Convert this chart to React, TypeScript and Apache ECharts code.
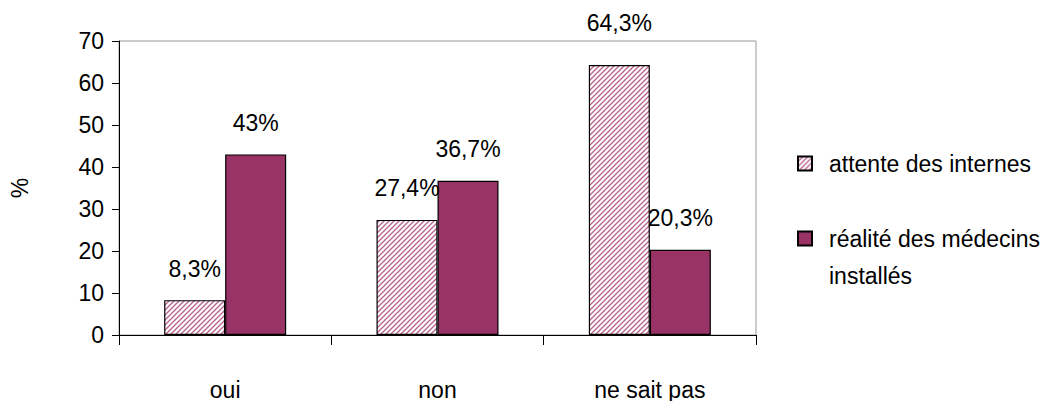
import React, { useEffect, useRef } from "react";
import * as echarts from "echarts";

const categories = ["oui", "non", "ne sait pas"];
const seriesNames = ["attente des internes", "réalité des médecins\ninstallés"];
const attenteValues = [8.3, 27.4, 64.3];
const realiteValues = [43, 36.7, 20.3];
const yTicks = { min: 0, max: 70, interval: 10 };

const FONT = '"Liberation Sans Narrow", "Arial Narrow", "Liberation Sans", Arial, sans-serif';
const FS = 23;

function makeHatch() {
  const s = 5;
  const c = document.createElement("canvas");
  c.width = s;
  c.height = s;
  const ctx = c.getContext("2d")!;
  ctx.fillStyle = "#ffffff";
  ctx.fillRect(0, 0, s, s);
  ctx.strokeStyle = "#b8608c";
  ctx.lineWidth = 1.3;
  ctx.beginPath();
  ctx.moveTo(-1, s + 1);
  ctx.lineTo(s + 1, -1);
  ctx.moveTo(-1, 1);
  ctx.lineTo(1, -1);
  ctx.moveTo(s - 1, s + 1);
  ctx.lineTo(s + 1, s - 1);
  ctx.stroke();
  return c;
}

const fmt = (v: number) => String(v).replace(".", ",") + "%";

export default function App() {
  const ref = useRef<HTMLDivElement>(null);
  useEffect(() => {
    if (!ref.current) return;
    const chart = echarts.init(ref.current, null, { renderer: "svg" });
    const hatch = { image: makeHatch(), repeat: "repeat" } as any;
    const maxVal = Math.max(...attenteValues, ...realiteValues);
    const labelBase = {
      show: true,
      position: "top",
      distance: 20,
      fontFamily: FONT,
      fontSize: FS,
      color: "#000",
      formatter: (p: any) => fmt(p.value),
    };
    const mkData = (vals: number[]) =>
      vals.map((v) => (v === maxVal ? { value: v, label: { distance: 30 } } : v));
    const legendText = { fontFamily: FONT, fontSize: FS, color: "#000", lineHeight: 37, padding: [0, 0, 0, 12] };
    chart.setOption({
      animation: false,
      grid: {
        left: 115,
        right: 303,
        top: 41,
        bottom: 64,
        show: true,
        borderColor: "#999",
        borderWidth: 1,
        backgroundColor: "transparent",
      },
      legend: [
        {
          data: [seriesNames[0]],
          left: 797,
          top: 145,
          padding: 0,
          itemWidth: 14,
          itemHeight: 14,
          icon: "rect",
          textStyle: legendText,
        },
        {
          data: [seriesNames[1]],
          left: 797,
          top: 183,
          padding: 0,
          itemWidth: 14,
          itemHeight: 14,
          icon: "rect",
          formatter: (n: string) => "\n" + n,
          textStyle: legendText,
        },
      ],
      xAxis: {
        type: "category",
        data: categories,
        axisLine: { lineStyle: { color: "#000", width: 1 } },
        axisTick: { show: true, alignWithLabel: false, interval: 0, length: 10, lineStyle: { color: "#000" } },
        axisLabel: { fontFamily: FONT, fontSize: FS, color: "#000", margin: 43, interval: 0 },
        splitLine: { show: false },
      },
      yAxis: {
        type: "value",
        min: yTicks.min,
        max: yTicks.max,
        interval: yTicks.interval,
        name: "%",
        nameLocation: "middle",
        nameGap: 88,
        nameRotate: 90,
        nameTextStyle: { fontFamily: FONT, fontSize: FS, color: "#000" },
        axisLine: { show: true, lineStyle: { color: "#000", width: 1 } },
        axisTick: { show: true, length: 7, lineStyle: { color: "#000" } },
        axisLabel: { fontFamily: FONT, fontSize: FS, color: "#000", margin: 15 },
        splitLine: { show: false },
      },
      series: [
        {
          name: seriesNames[0],
          type: "bar",
          data: mkData(attenteValues),
          barWidth: 61,
          barGap: "0%",
          itemStyle: { color: hatch, borderColor: "#000", borderWidth: 1.2 },
          label: labelBase,
        },
        {
          name: seriesNames[1],
          type: "bar",
          data: mkData(realiteValues),
          barWidth: 61,
          barGap: "0%",
          itemStyle: { color: "#993366", borderColor: "#000", borderWidth: 1.2 },
          label: labelBase,
        },
      ],
    });
    return () => chart.dispose();
  }, []);
  return (
    <div
      ref={ref}
      style={{ position: "absolute", left: 0, top: 0, width: 1059, height: 401 }}
    />
  );
}
